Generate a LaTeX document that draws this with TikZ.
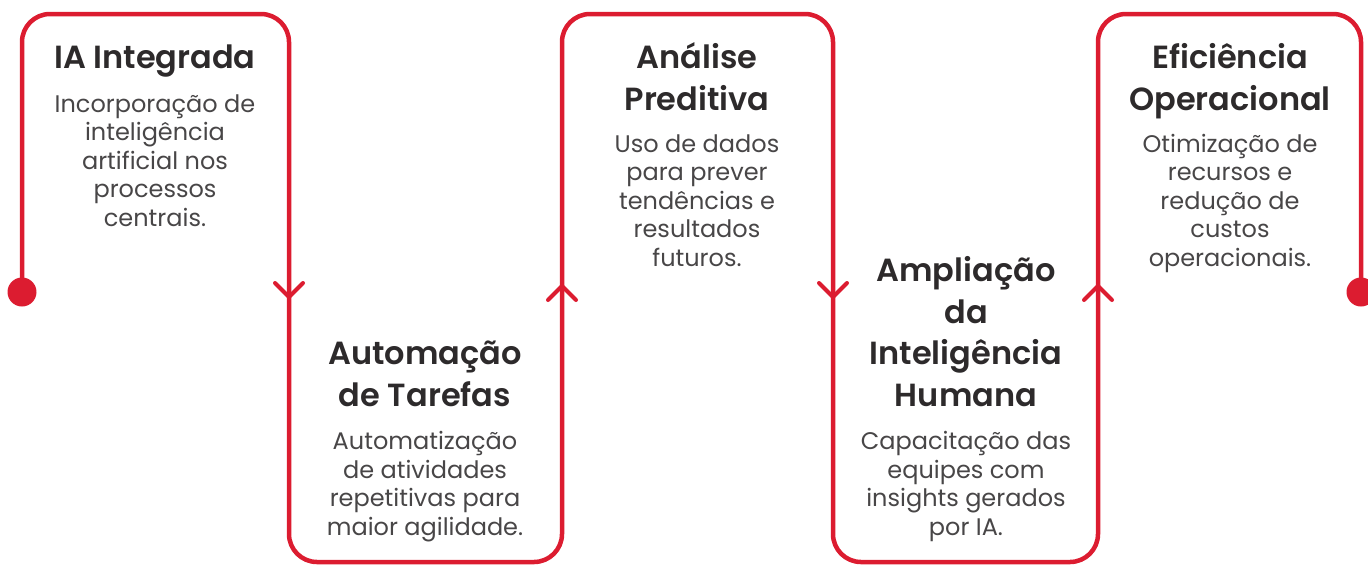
\documentclass[tikz,border=0pt]{standalone}
\usepackage{fontspec}
\setmainfont{Poppins}[BoldFont={Poppins SemiBold}]
\definecolor{flowred}{RGB}{220,28,48}
\definecolor{titlegray}{RGB}{45,42,43}
\definecolor{bodygray}{RGB}{72,70,71}
\begin{document}
\begin{tikzpicture}[x=1pt,y=-1pt,
  flow/.style={draw=flowred,line width=4.5pt,rounded corners=28pt},
  chev/.style={draw=flowred,line width=4pt,line cap=round,line join=miter},
  dotnode/.style={circle,fill=flowred,minimum size=29pt,inner sep=0pt},
  ttl/.style={font=\fontsize{32}{41.5}\selectfont\bfseries,text=titlegray,align=center,anchor=base,inner sep=0pt},
  bdy/.style={font=\fontsize{24}{28.5}\selectfont,text=bodygray,align=center,anchor=base,inner sep=0pt}]
\useasboundingbox (0,0) rectangle (1368,566);
% start / end dots
\node[dotnode] (d1) at (22,292) {};
\node[dotnode] (d2) at (1361,292) {};
% corner coordinates
\coordinate (c1) at (22,14);
\coordinate (c2) at (289,14);
\coordinate (c3) at (289,562);
\coordinate (c4) at (562,562);
\coordinate (c5) at (562,14);
\coordinate (c6) at (833,14);
\coordinate (c7) at (833,562);
\coordinate (c8) at (1098,562);
\coordinate (c9) at (1098,14);
\coordinate (c10) at (1361,14);
\draw[flow] (d1.center) -- (c1) -- (c2) -- (c3) -- (c4) -- (c5) -- (c6) -- (c7) -- (c8) -- (c9) -- (c10) -- (d2.center);
% chevrons
\coordinate (a1) at (289,297);
\coordinate (a2) at (562,286);
\coordinate (a3) at (833,297);
\coordinate (a4) at (1098,286);
\draw[chev] ([shift={(-14,-14)}]a1) -- (a1) -- ([shift={(14,-14)}]a1);
\draw[chev] ([shift={(-14,14)}]a2) -- (a2) -- ([shift={(14,14)}]a2);
\draw[chev] ([shift={(-14,-14)}]a3) -- (a3) -- ([shift={(14,-14)}]a3);
\draw[chev] ([shift={(-14,14)}]a4) -- (a4) -- ([shift={(14,14)}]a4);
% texts (anchor base = baseline of last line)
\node[ttl] (t1) at (155,68) {IA Integrada};
\node[bdy] (b1) at (155,226) {Incorporação de\\inteligência\\artificial nos\\processos\\centrais.};
\node[ttl] (t2) at (425,406) {Automação\\de Tarefas};
\node[bdy] (b2) at (425,535) {Automatização\\de atividades\\repetitivas para\\maior agilidade.};
\node[ttl] (t3) at (697,110) {Análise\\Preditiva};
\node[bdy] (b3) at (697,266) {Uso de dados\\para prever\\tendências e\\resultados\\futuros.};
\node[ttl] (t4) at (966,406) {Ampliação\\da\\Inteligência\\Humana};
\node[bdy] (b4) at (966,535) {Capacitação das\\equipes com\\insights gerados\\por IA.};
\node[ttl] (t5) at (1230,110) {Eficiência\\Operacional};
\node[bdy] (b5) at (1230,266) {Otimização de\\recursos e\\redução de\\custos\\operacionais.};
\end{tikzpicture}
\end{document}
